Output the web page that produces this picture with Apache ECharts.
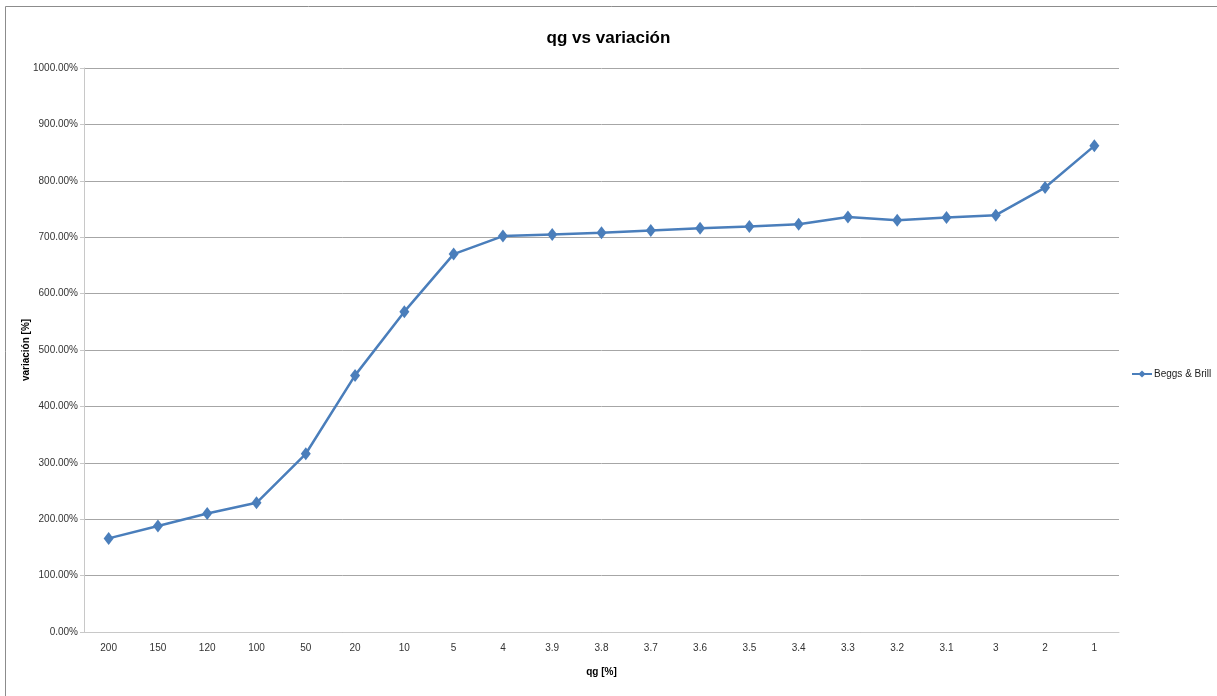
<!DOCTYPE html>
<html>
<head>
<meta charset="utf-8">
<script src="https://cdn.jsdelivr.net/npm/echarts@6/dist/echarts.min.js"></script>
<style>
html,body{margin:0;padding:0;background:#fff;}
#c{width:1217px;height:696px;}
</style>
</head>
<body>
<div id="c"></div>
<script>
const categories = ['200','150','120','100','50','20','10','5','4','3.9','3.8','3.7','3.6','3.5','3.4','3.3','3.2','3.1','3','2','1'];
const seriesName = 'Beggs & Brill';
const values = [166, 188, 210, 229, 316, 455, 568, 670, 702, 705, 708, 712, 716, 719, 723, 736, 730, 735, 739, 788, 862];
const yTicks = { min: 0, max: 1000, interval: 100 };
const titleText = 'qg vs variación';
const xName = 'qg [%]';
const yName = 'variación [%]';

const FONT = "'Liberation Sans', Arial, sans-serif";
const chart = echarts.init(document.getElementById('c'), null, {renderer:'canvas'});
chart.setOption({
  animation: false,
  backgroundColor: '#fff',
  graphic: [{
    type: 'rect', shape: {x: 5.5, y: 6.5, width: 1230, height: 700},
    style: {fill: 'none', stroke: '#8c8c8c', lineWidth: 1}, silent: true
  }],
  title: {
    text: titleText, left: 'center', top: 25,
    textStyle: {fontFamily: FONT, fontSize: 17, fontWeight: 'bold', color: '#000'}
  },
  legend: {
    data: [seriesName], orient: 'vertical', left: 1131, top: 369,
    itemWidth: 20, itemHeight: 9, itemGap: 4, padding: 0,
    textStyle: {fontFamily: FONT, fontSize: 10, color: '#222', padding: [0,0,0,-3]}
  },
  grid: {left: 84, right: 98, top: 68, bottom: 64, containLabel: false},
  xAxis: {
    type: 'category', data: categories, boundaryGap: true,
    name: xName, nameLocation: 'middle', nameGap: 35, nameMoveOverlap: false,
    nameTextStyle: {fontFamily: FONT, fontSize: 10, fontWeight: 'bold', color: '#000'},
    axisLine: {lineStyle: {color: '#c8c8c8', width: 1}},
    axisTick: {show: false},
    axisLabel: {fontFamily: FONT, fontSize: 10, color: '#333', margin: 11}
  },
  yAxis: {
    type: 'value', min: yTicks.min, max: yTicks.max, interval: yTicks.interval,
    name: yName, nameLocation: 'middle', nameGap: 53, nameRotate: 90, nameMoveOverlap: false,
    nameTextStyle: {fontFamily: FONT, fontSize: 10, fontWeight: 'bold', color: '#000'},
    axisLine: {show: true, lineStyle: {color: '#c8c8c8', width: 1}},
    axisTick: {show: true, length: 4, lineStyle: {color: '#c8c8c8'}},
    splitLine: {lineStyle: {color: '#a6a6a6', width: 1}},
    axisLabel: {fontFamily: FONT, fontSize: 10, color: '#333', margin: 6,
      formatter: v => v.toFixed(2) + '%'}
  },
  series: [{
    name: seriesName, type: 'line', data: values,
    symbol: 'diamond', symbolSize: [10, 13],
    lineStyle: {color: '#4a7ebb', width: 2.5},
    itemStyle: {color: '#4a7ebb'}
  }]
});
</script>
</body>
</html>
